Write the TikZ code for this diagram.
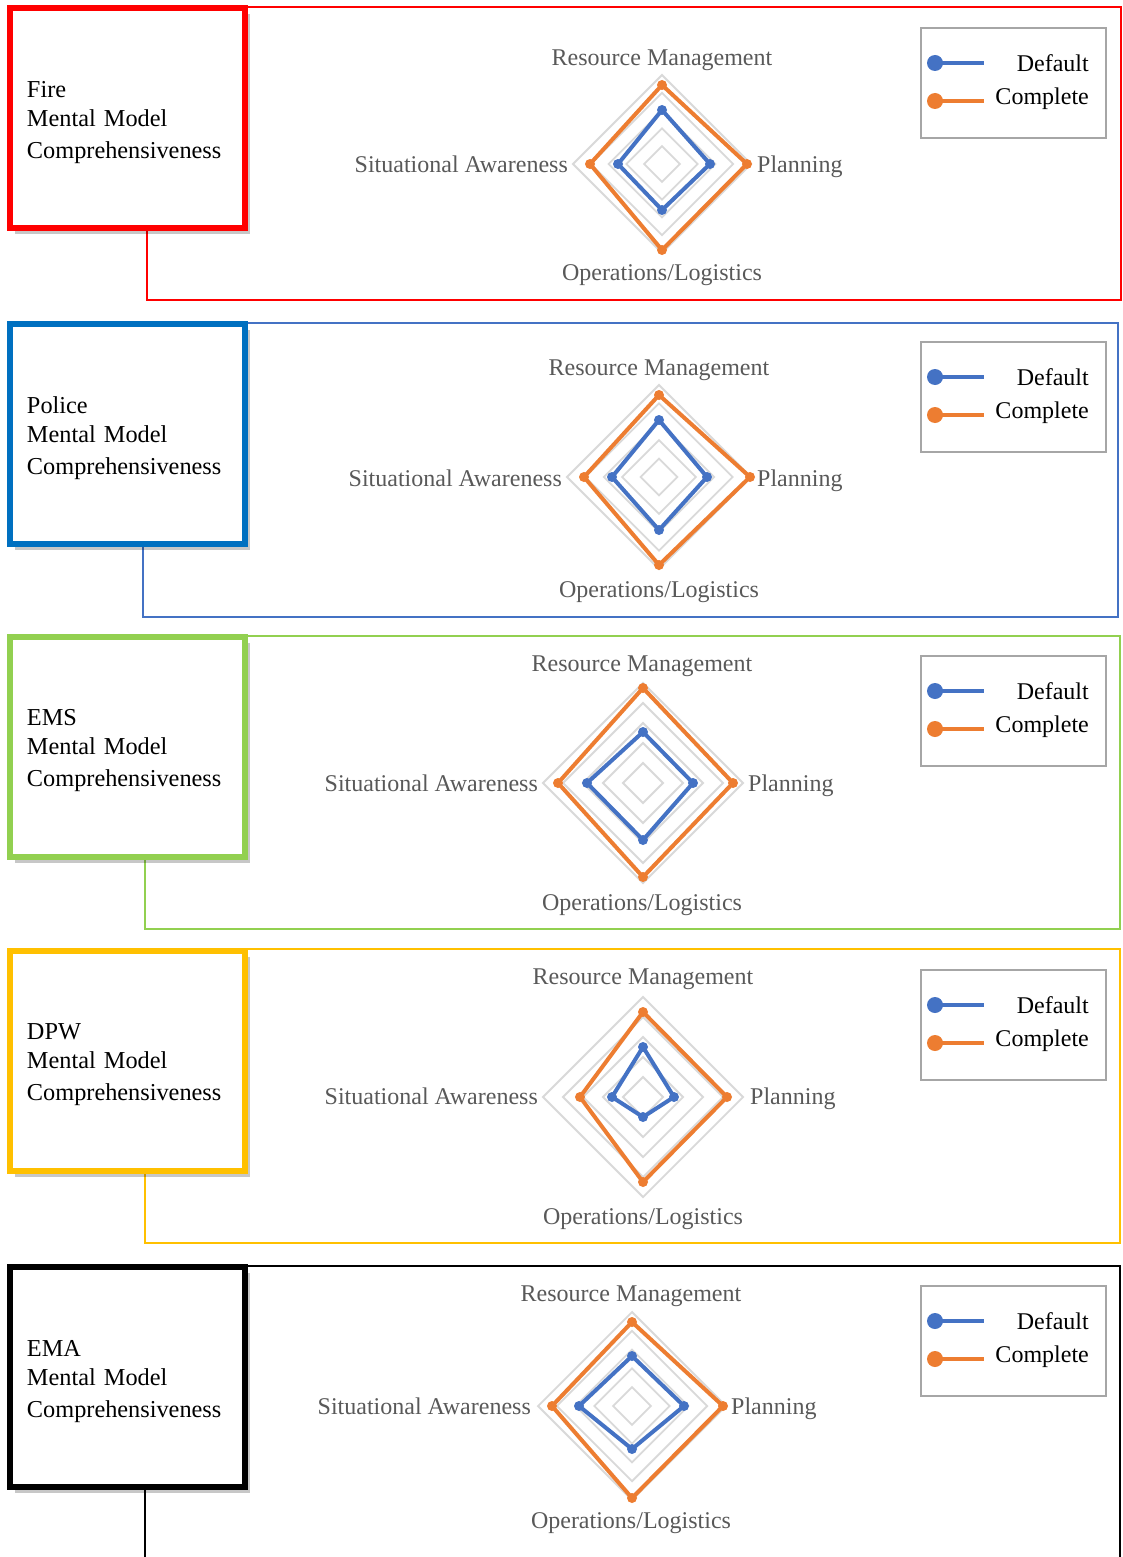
\documentclass[tikz,border=0pt]{standalone}
\usepackage{fontspec}
\setmainfont{Liberation Serif}
\usetikzlibrary{shadows}
\definecolor{serblue}{HTML}{4472C4}
\definecolor{serorange}{HTML}{ED7D31}
\definecolor{gridgray}{HTML}{D9D9D9}
\definecolor{labgray}{HTML}{595959}
\definecolor{firered}{HTML}{FF0000}
\definecolor{policeblue}{HTML}{0070C0}
\definecolor{policethin}{HTML}{4472C4}
\definecolor{emsgreen}{HTML}{92D050}
\definecolor{dpwyellow}{HTML}{FFC000}
\definecolor{legendgray}{HTML}{A6A6A6}

\tikzset{
  gridline/.style={draw=gridgray, line width=1.8pt, line join=miter},
  serline/.style={line width=4pt, line join=round, line cap=round},
  lab/.style={inner sep=0pt, text=labgray, font=\fontsize{24}{28}\selectfont, yshift=-5pt},
  legtext/.style={inner sep=0pt, text=black, font=\fontsize{24}{28}\selectfont, yshift=-5pt},
  legbox/.style={draw=legendgray, line width=1.5pt, fill=white, minimum width=185pt, minimum height=110pt},
  titlebox/.style={draw, line width=6pt, fill=white, minimum width=235.6pt, minimum height=220pt,
    text width=201pt, inner xsep=17.3pt, align=left, font=\fontsize{24.3}{29}\selectfont,
    drop shadow={shadow xshift=5pt, shadow yshift=-6pt, opacity=0.22, fill=black}},
  thinframe/.style={line width=2pt},
}

% rings: cx cy R
\newcommand\ringset[3]{%
  \foreach \k in {1,...,5}{%
    \pgfmathsetmacro\rr{#3*\k/5}%
    \draw[gridline] ({#1},{#2-\rr}) -- ({#1+\rr},{#2}) -- ({#1},{#2+\rr}) -- ({#1-\rr},{#2}) -- cycle;
  }}
% series: cx cy colour top right bottom left
\newcommand\dataseries[7]{%
  \draw[serline, draw=#3] ({#1},{#2-#4}) -- ({#1+#5},{#2}) -- ({#1},{#2+#6}) -- ({#1-#7},{#2}) -- cycle;
  \fill[#3] ({#1},{#2-#4}) circle[radius=5pt];
  \fill[#3] ({#1+#5},{#2}) circle[radius=5pt];
  \fill[#3] ({#1},{#2+#6}) circle[radius=5pt];
  \fill[#3] ({#1-#7},{#2}) circle[radius=5pt];
}
% legend: prefix top
\newcommand\legendat[2]{%
  \node[legbox] (#1leg) at (1013.5,{#2+55}) {};
  \draw[serline, line cap=butt, serblue] (935,{#2+35}) -- (984,{#2+35});
  \fill[serblue] (935,{#2+35}) circle[radius=8pt];
  \draw[serline, line cap=butt, serorange] (935,{#2+73}) -- (984,{#2+73});
  \fill[serorange] (935,{#2+73}) circle[radius=8pt];
  \node[legtext, anchor=mid east] (#1def) at (1089,{#2+36}) {Default};
  \node[legtext, anchor=mid east] (#1com) at (1089,{#2+69}) {Complete};
}
% axis labels: prefix cx  yRM  xSA  xP  ymid  yOL
\newcommand\axislabels[7]{%
  \node[lab, anchor=mid] (#1rm) at ({#2},{#3}) {Resource Management};
  \node[lab, anchor=mid east] (#1sa) at ({#4},{#6}) {Situational Awareness};
  \node[lab, anchor=mid west] (#1pl) at ({#5},{#6}) {Planning};
  \node[lab, anchor=mid] (#1ol) at ({#2},{#7}) {Operations/Logistics};
}
\newcommand\firstline{\rule{0pt}{25pt}}

\begin{document}
\begin{tikzpicture}[x=1pt, y=-1pt]
\useasboundingbox (0,0) rectangle (1122,1557);
\fill[white] (0,0) rectangle (1122,1557);

% ---------- Fire ----------
\draw[thinframe, firered] (147,7) rectangle (1121,300);
\node[titlebox, draw=firered] (fire) at (127.5,117.9) {\firstline Fire\\Mental Model\\[3pt]Comprehensiveness};
\ringset{662}{164}{89}
\dataseries{662}{164}{serorange}{79}{85}{86}{72}
\dataseries{662}{164}{serblue}{54}{48}{46}{44}
\axislabels{fire}{662}{58}{568}{757}{165}{273}
\legendat{fire}{28}

% ---------- Police ----------
\draw[thinframe, policethin, line width=1.6pt] (143,323) rectangle (1118,617);
\node[titlebox, draw=policeblue] (police) at (127.5,434) {\firstline Police\\Mental Model\\[3pt]Comprehensiveness};
\ringset{659}{477}{92}
\dataseries{659}{477}{serorange}{82}{91}{88}{75}
\dataseries{659}{477}{serblue}{57}{48}{53}{47}
\axislabels{police}{659}{368}{562}{757}{479}{590}
\legendat{police}{342}

% ---------- EMS ----------
\draw[thinframe, emsgreen, line width=1.6pt] (145,636) rectangle (1120,929);
\node[titlebox, draw=emsgreen] (ems) at (127.5,746.5) {\firstline EMS\\Mental Model\\[3pt]Comprehensiveness};
\ringset{643}{783}{100}
\dataseries{643}{783}{serorange}{95}{90}{94}{85}
\dataseries{643}{783}{serblue}{51}{50}{57}{56}
\axislabels{ems}{642}{664}{538}{748}{784}{903}
\legendat{ems}{656}

% ---------- DPW ----------
\draw[thinframe, dpwyellow, line width=1.6pt] (145,949) rectangle (1120,1243);
\node[titlebox, draw=dpwyellow] (dpw) at (127.5,1060.5) {\firstline DPW\\Mental Model\\[3pt]Comprehensiveness};
\ringset{643}{1097}{100}
\dataseries{643}{1097}{serorange}{85}{84}{85}{63}
\dataseries{643}{1097}{serblue}{50}{31}{20}{31}
\axislabels{dpw}{643}{977}{538}{750}{1097}{1217}
\legendat{dpw}{970}

% ---------- EMA ----------
\draw[thinframe, black, line width=1.6pt] (145,1557) -- (145,1266) -- (1120,1266) -- (1120,1557);
\node[titlebox, draw=black] (ema) at (127.5,1377) {\firstline EMA\\Mental Model\\[3pt]Comprehensiveness};
\ringset{632}{1406}{94}
\dataseries{632}{1406}{serorange}{84}{91}{92}{80}
\dataseries{632}{1406}{serblue}{50}{52}{43}{53}
\axislabels{ema}{631}{1294}{531}{731}{1407}{1521}
\legendat{ema}{1286}
\end{tikzpicture}
\end{document}
